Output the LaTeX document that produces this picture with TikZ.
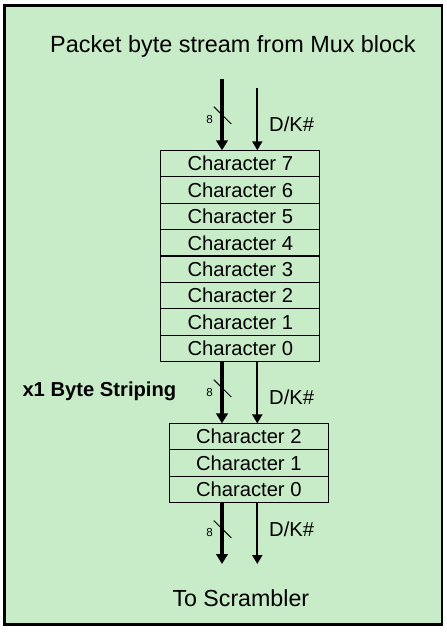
\documentclass[tikz,border=0pt]{standalone}
\usepackage{fontspec}
\setmainfont{Liberation Sans}
\usetikzlibrary{positioning,arrows.meta}
\definecolor{panel}{HTML}{C8ECC8}

\begin{document}
\begin{tikzpicture}[x=1pt,y=-1pt,node distance=26.43pt,
        char node/.style={rectangle,draw,line width=1.2pt,minimum width=159pt,
            minimum height=26.43pt,inner sep=0pt,outer sep=0pt,
            font=\fontsize{20.2}{24}\selectfont},
        label node/.style={inner sep=0pt,anchor=base west,font=\fontsize{20.2}{24}\selectfont},
        width node/.style={inner sep=0pt,anchor=base west,font=\fontsize{11.6}{14}\selectfont},
        bus/.style={line width=3.8pt,-{Triangle[length=10pt,width=11.5pt]}},
        ctrl/.style={line width=2pt,-{Triangle[length=9pt,width=10pt]}}]

    \useasboundingbox (0,0) rectangle (447,632);
    \draw[fill=panel,line width=2.7pt] (4.3,5.3) rectangle (442,624.7);

    \node[label node,font=\fontsize{23.4}{28}\selectfont] (title) at (50,52.3)
        {Packet byte stream from Mux block};

    % 8 character buffer
    \node[char node] (a7) at (240.3,163.5) {Character 7};
    \node[char node] (a6) [below of=a7] {Character 6};
    \node[char node] (a5) [below of=a6] {Character 5};
    \node[char node] (a4) [below of=a5] {Character 4};
    \node[char node] (a3) [below of=a4] {Character 3};
    \node[char node] (a2) [below of=a3] {Character 2};
    \node[char node] (a1) [below of=a2] {Character 1};
    \node[char node] (a0) [below of=a1] {Character 0};

    % 3 character buffer
    \node[char node] (b2) at (248.8,436.6) {Character 2};
    \node[char node] (b1) [below of=b2] {Character 1};
    \node[char node] (b0) [below of=b1] {Character 0};

    \coordinate (in8) at (222,79.3);
    \coordinate (inK) at (257.3,88.3);
    \coordinate (out8) at (222,564);
    \coordinate (outK) at (257.3,564);

    \draw[bus] (in8) -- (in8 |- a7.north);
    \draw[ctrl] (inK) -- (inK |- a7.north);
    \draw[bus] (a0.south -| in8) -- (b2.north -| in8);
    \draw[ctrl] (a0.south -| inK) -- (b2.north -| inK);
    \draw[bus] (b0.south -| in8) -- (out8);
    \draw[ctrl] (b0.south -| inK) -- (outK);

    \foreach \n/\y in {1/115.3,2/388.3,3/529.2}{
        \draw[line width=1pt] (213.8,\y-8.6) -- (231.2,\y+8.6);
        \node[width node] (w\n) at (206.2,\y+7.7) {8};
    }

    \node[label node] (k1) at (269,131.7) {D/K\#};
    \node[label node] (k2) at (269,404.3) {D/K\#};
    \node[label node] (k3) at (269,536.7) {D/K\#};

    \node[label node,font=\bfseries\fontsize{20.2}{24}\selectfont] (stripe) at (22.3,396.7)
        {x1 Byte Striping};
    \node[label node,font=\fontsize{23.2}{28}\selectfont] (scr) at (172.3,606.7)
        {To Scrambler};
\end{tikzpicture}
\end{document}
